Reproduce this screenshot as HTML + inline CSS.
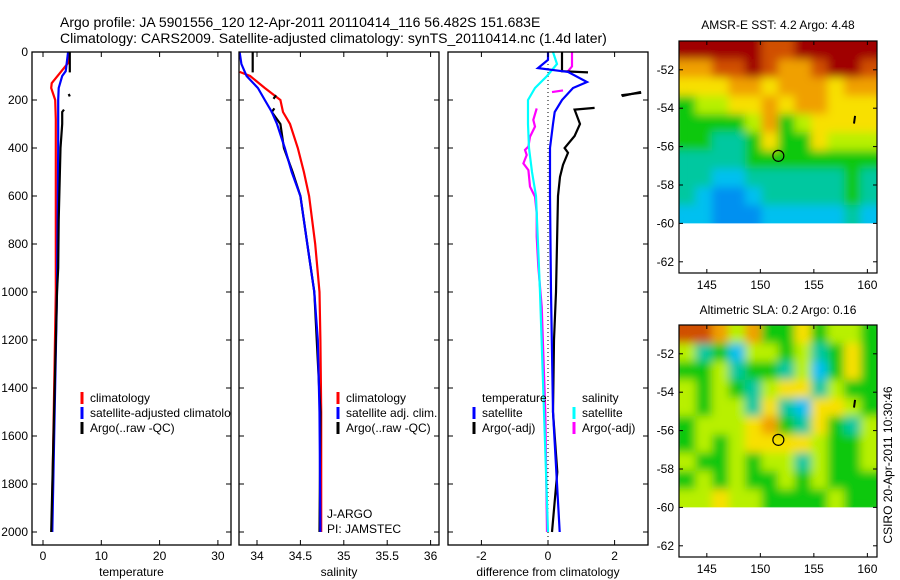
<!DOCTYPE html>
<html><head><meta charset="utf-8">
<style>
html,body{margin:0;padding:0;background:#fff;}
svg{display:block;font-family:"Liberation Sans",sans-serif;}
text{fill:#000;}
</style></head>
<body>
<svg id="c" width="900" height="580" viewBox="0 0 900 580" xmlns="http://www.w3.org/2000/svg">
<defs>
<filter id="smooth" x="-5%" y="-5%" width="110%" height="110%">
<feGaussianBlur stdDeviation="4.5"/>
<feComponentTransfer><feFuncA type="linear" slope="3"/></feComponentTransfer>
</filter>
</defs>
<text x="60" y="27" font-size="14">Argo profile: JA 5901556_120 12-Apr-2011 20110414_116 56.482S 151.683E</text>
<text x="60" y="43" font-size="14">Climatology: CARS2009. Satellite-adjusted climatology: synTS_20110414.nc (1.4d later)</text>
<text x="778" y="29" font-size="12" text-anchor="middle">AMSR-E SST: 4.2 Argo: 4.48</text>
<text x="778" y="314" font-size="12" text-anchor="middle">Altimetric SLA: 0.2 Argo: 0.16</text>
<text transform="translate(892,465) rotate(-90)" font-size="12" text-anchor="middle">CSIRO 20-Apr-2011 10:30:46</text>
</svg>
<script>
// ---- data ----
const depthTicks=[0,200,400,600,800,1000,1200,1400,1600,1800,2000];
const tempTicks=[0,10,20,30];
const salTicks=[34,34.5,35,35.5,36];
const diffTicks=[-2,0,2];
const latTicks=[-52,-54,-56,-58,-60,-62];
const lonTicks=[145,150,155,160];

const tClimDepth=[0,46,88,130,150,200,280,1000,2000];
const tClimVal=[4.3,4.3,2.9,1.5,1.4,2.1,2.2,2.2,1.5];
const tSatDepth=[0,80,100,150,200,400,1000,2000];
const tSatVal=[4.3,3.9,3.3,2.7,2.6,2.6,2.4,1.6];
const tArgoDepth1=[0,85];
const tArgoVal1=[4.6,4.6];
const tArgoDepth2=[175,185];
const tArgoVal2=[4.4,4.6];
const tArgoDepth3=[240,250,300,400,500,700,900,1000,2000];
const tArgoVal3=[3.6,3.3,3.3,3.0,2.9,2.7,2.6,2.4,1.4];

const sClimDepth=[83,100,150,200,250,300,400,500,600,800,1000,1200,1500,2000];
const sClimVal=[33.80,33.92,34.09,34.27,34.30,34.38,34.47,34.54,34.60,34.67,34.72,34.73,34.74,34.74];
const sSatDepth=[0,50,100,150,200,250,300,400,500,600,800,1000,1200,1500,2000];
const sSatVal=[33.80,33.82,33.88,34.01,34.09,34.17,34.23,34.32,34.40,34.50,34.58,34.66,34.70,34.72,34.73];
const sArgoDepth1=[0,85];
const sArgoVal1=[33.95,33.95];
const sArgoDepth2=[180,195];
const sArgoVal2=[34.22,34.19];
const sArgoDepth3=[235,250,300,400,500,600,800,1000,1500,2000];
const sArgoVal3=[34.20,34.17,34.27,34.31,34.41,34.50,34.58,34.66,34.73,34.72];

const dTSatDepth=[0,33,67,83,125,150,200,250,300,400,600,1000,1500,2000];
const dTSatVal=[0,0,-0.3,0.6,1.17,0.75,0.42,0.2,0.15,0.06,0.06,0.09,0.15,0.35];
const dTArgoDepth1=[0,80,85];
const dTArgoVal1=[0.42,0.42,1.2];
const dTArgoDepth2=[180,170];
const dTArgoVal2=[2.2,2.8];
const dTArgoDepth3=[233,240,300,350,400,420,470,520,600,800,1000,1200,1500,1750,2000];
const dTArgoVal3=[1.4,0.8,0.96,0.8,0.5,0.6,0.45,0.36,0.3,0.27,0.24,0.18,0.15,0.28,0.12];
const dSSatDepth=[0,50,100,150,200,300,400,500,600,800,1000,1500,2000];
const dSSatVal=[0.15,0.27,-0.03,-0.39,-0.6,-0.6,-0.57,-0.48,-0.36,-0.3,-0.24,-0.12,0.0];
const dSArgoDepth1=[0,60,80];
const dSArgoVal1=[0.72,0.72,0.6];
const dSArgoDepth2=[167,160];
const dSArgoVal2=[0.12,0.45];
const dSArgoDepth3=[235,283,311,353,394,408,429,464,492,561,603,672,769,894,1061,1500,2000];
const dSArgoVal3=[-0.34,-0.44,-0.39,-0.54,-0.59,-0.69,-0.64,-0.74,-0.59,-0.54,-0.39,-0.34,-0.34,-0.29,-0.19,-0.08,-0.03];

const sstGrid=[
[9,9,9,9,9,8,8,9,9,9,9,9],
[7,7,8,8,9,8,7,7,8,9,9,8],
[6,6,6,7,7,6,7,7,7,6,7,7],
[4,5,5,6,6,7,6,7,7,6,6,6],
[4,4,4,4,5,7,4,5,6,6,6,6],
[4,4,3,3,4,6,4,4,6,5,5,5],
[3,3,3,3,4,4,4,4,4,4,4,4],
[3,3,2,2,3,3,3,3,3,3,4,3],
[3,2,1,1,2,3,3,3,3,3,4,3],
[2,2,1,1,1,2,2,2,2,2,3,2]];
const slaGrid=[
[8,8,7,5,7,4,4,6,4,5,5,4],
[5,3,4,2,5,5,4,5,3,4,6,4],
[4,4,5,3,4,4,3,5,2,4,6,4],
[5,4,5,4,3,5,6,6,3,5,4,4],
[5,4,5,5,3,6,3,2,6,6,5,4],
[4,5,5,5,6,7,4,3,6,4,3,5],
[4,5,4,5,6,6,6,6,5,4,4,5],
[5,4,4,5,4,5,5,3,5,4,4,5],
[4,5,4,5,4,4,5,4,5,4,4,4],
[5,5,6,5,5,4,4,4,4,5,4,4]];
const argoLon=151.683, argoLat=-56.482;

// ---- drawing ----
const NS='http://www.w3.org/2000/svg';
const svg=document.getElementById('c');
function mk(tag,attrs,parent){const e=document.createElementNS(NS,tag);for(const k in attrs)e.setAttribute(k,attrs[k]);(parent||svg).appendChild(e);return e;}
const yTop=52, yBot=545, pxPerM=0.24;
const yD=d=>yTop+d*pxPerM;
const panels=[
 {name:'temperature',x0:32,x1:231,f:v=>43+v*5.83,ticks:tempTicks,label:'temperature'},
 {name:'salinity',x0:239,x1:439,f:v=>257+(v-34)*86.8,ticks:salTicks,label:'salinity'},
 {name:'difference',x0:448,x1:648,f:v=>548+v*33.3,ticks:diffTicks,label:'difference from climatology'}];
panels.forEach((p,i)=>{
 const g=mk('g',{});
 
 
 const cp=mk('clipPath',{id:'cp'+i},g);mk('rect',{x:p.x0,y:yTop,width:p.x1-p.x0,height:yBot-yTop},cp);
 p.g=g;p.plot=mk('g',{'clip-path':'url(#cp'+i+')'},g);
 mk('rect',{x:p.x0,y:yTop,width:p.x1-p.x0,height:yBot-yTop,fill:'#fff'},p.plot);
 p.ticks.forEach(t=>{const x=p.f(t);
  mk('line',{x1:x,x2:x,y1:yTop,y2:yTop+5,stroke:'#000'},g);
  mk('line',{x1:x,x2:x,y1:yBot,y2:yBot-5,stroke:'#000'},g);
  const tx=mk('text',{x:x,y:560,'font-size':12,'text-anchor':'middle'},g);tx.textContent=t;
  
  });
 depthTicks.forEach(d=>{const y=yD(d);
  mk('line',{x1:p.x0,x2:p.x0+5,y1:y,y2:y,stroke:'#000'},g);
  mk('line',{x1:p.x1,x2:p.x1-5,y1:y,y2:y,stroke:'#000'},g);});
 const xl=mk('text',{x:(p.x0+p.x1)/2,y:576,'font-size':12,'text-anchor':'middle'},g);xl.textContent=p.label;
 
 
});
depthTicks.forEach(d=>{const t=mk('text',{x:28,y:yD(d)+4,'font-size':12,'text-anchor':'end'});t.textContent=d;
 
 });
function line(p,ds,vs,col,name,w,dash){const pts=ds.map((d,i)=>p.f(vs[i]).toFixed(1)+','+yD(d).toFixed(1)).join(' ');
 const e=mk('polyline',{points:pts,fill:'none',stroke:col,'stroke-width':w||2.2},p.plot);if(dash)e.setAttribute('stroke-dasharray',dash);
 
 }
const [P1,P2,P3]=panels;
line(P3,[0,2054],[0,0],'#000','zero-line',1,'1,3');
line(P1,tClimDepth,tClimVal,'#f00','temp-climatology');
line(P1,tSatDepth,tSatVal,'#00f','temp-satellite');
line(P1,tArgoDepth1,tArgoVal1,'#000','temp-argo');line(P1,tArgoDepth2,tArgoVal2,'#000','temp-argo');line(P1,tArgoDepth3,tArgoVal3,'#000','temp-argo');
line(P2,sClimDepth,sClimVal,'#f00','sal-climatology');
line(P2,sArgoDepth1,sArgoVal1,'#000','sal-argo');line(P2,sArgoDepth2,sArgoVal2,'#000','sal-argo');line(P2,sArgoDepth3,sArgoVal3,'#000','sal-argo');
line(P2,sSatDepth,sSatVal,'#00f','sal-satellite');
line(P3,dSArgoDepth1,dSArgoVal1,'#f0f','diff-sal-argo');line(P3,dSArgoDepth2,dSArgoVal2,'#f0f','diff-sal-argo');line(P3,dSArgoDepth3,dSArgoVal3,'#f0f','diff-sal-argo');
line(P3,dSSatDepth,dSSatVal,'#0ff','diff-sal-satellite');
line(P3,dTArgoDepth1,dTArgoVal1,'#000','diff-temp-argo');line(P3,dTArgoDepth2,dTArgoVal2,'#000','diff-temp-argo');line(P3,dTArgoDepth3,dTArgoVal3,'#000','diff-temp-argo');
line(P3,dTSatDepth,dTSatVal,'#00f','diff-temp-satellite');
mk('line',{x1:622,y1:96,x2:641,y2:92,stroke:'#000','stroke-width':2.2});
panels.forEach(p=>mk('rect',{x:p.x0,y:yTop,width:p.x1-p.x0,height:yBot-yTop,fill:'none',stroke:'#000','stroke-width':1.3},p.g));
function legend(x,y,items,g){items.forEach((it,i)=>{const yy=y+i*15;
 if(it.c)mk('line',{x1:x,x2:x,y1:yy-10,y2:yy+2,stroke:it.c,'stroke-width':3},g);
 const t=mk('text',{x:x+8,y:yy,'font-size':12},g);t.textContent=it.t;
 
 });}
legend(82,402,[{c:'#f00',t:'climatology'},{c:'#00f',t:'satellite-adjusted climatology'},{c:'#000',t:'Argo(..raw -QC)'}],P1.plot);
legend(338,402,[{c:'#f00',t:'climatology'},{c:'#00f',t:'satellite adj. clim.'},{c:'#000',t:'Argo(..raw -QC)'}],P2.plot);
legend(474,402,[{t:'temperature'},{c:'#00f',t:'satellite'},{c:'#000',t:'Argo(-adj)'}],P3.plot);
legend(574,402,[{t:'salinity'},{c:'#0ff',t:'satellite'},{c:'#f0f',t:'Argo(-adj)'}],P3.plot);
[['J-ARGO',518],['PI: JAMSTEC',533]].forEach(a=>{const t=mk('text',{x:327,y:a[1],'font-size':12},P2.plot);t.textContent=a[0];
 
 });
// maps
const cmap=['#0050e0','#0090f0','#00c0f0','#00c8a0','#10c810','#b8f000','#f8e000','#f0a000','#d05000','#a00000'];
const lonMin=142.4,lonMax=160.9,latTopV=-50.5,latBotV=-60;
let mapId=0;
function map(top,grid,name){
 const g=mk('g',{});
 
 
 const x0=679,x1=877,bot=top+232;
 const lx=lon=>x0+(lon-lonMin)*(x1-x0)/(lonMax-lonMin);
 const ly=lat=>top+(lat-latTopV)*(-19.2);
 const nr=grid.length,nc=grid[0].length;
 const cw=(x1-x0)/nc,ch=(ly(latBotV)-top)/nr;
 const id='mc'+(mapId++);
 const cp=mk('clipPath',{id:id},g);mk('rect',{x:x0,y:top,width:x1-x0,height:ly(latBotV)-top},cp);
 const outer=mk('g',{'clip-path':'url(#'+id+')'},g);
 const cells=mk('g',{filter:'url(#smooth)'},outer);
 grid.forEach((row,r)=>row.forEach((v,c)=>{
  const e=mk('rect',{x:x0+c*cw,y:top+r*ch,width:cw+0.6,height:ch+0.6,fill:cmap[v]},cells);
  
  }));
 mk('rect',{x:x0,y:top,width:x1-x0,height:bot-top,fill:'none',stroke:'#000','stroke-width':1.2},g);
 latTicks.forEach(l=>{const y=ly(l);mk('line',{x1:x0,x2:x0+4,y1:y,y2:y,stroke:'#000'},g);mk('line',{x1:x1,x2:x1-4,y1:y,y2:y,stroke:'#000'},g);
  const t=mk('text',{x:x0-5,y:y+4,'font-size':12,'text-anchor':'end'},g);t.textContent=l;
  
  });
 lonTicks.forEach(l=>{const x=lx(l);mk('line',{x1:x,x2:x,y1:top,y2:top+4,stroke:'#000'},g);mk('line',{x1:x,x2:x,y1:bot,y2:bot-4,stroke:'#000'},g);
  const t=mk('text',{x:x,y:bot+16,'font-size':12,'text-anchor':'middle'},g);t.textContent=l;
  
  });
 const m=mk('circle',{cx:lx(argoLon),cy:ly(argoLat),r:5.5,fill:'none',stroke:'#000','stroke-width':1.2},g);
 
 
 mk('line',{x1:lx(158.85),y1:ly(-54.4),x2:lx(158.75),y2:ly(-54.8),stroke:'#000','stroke-width':2},g);
}
map(41,sstGrid,'sst-map');
map(325,slaGrid,'sla-map');
</script>
</body></html>
